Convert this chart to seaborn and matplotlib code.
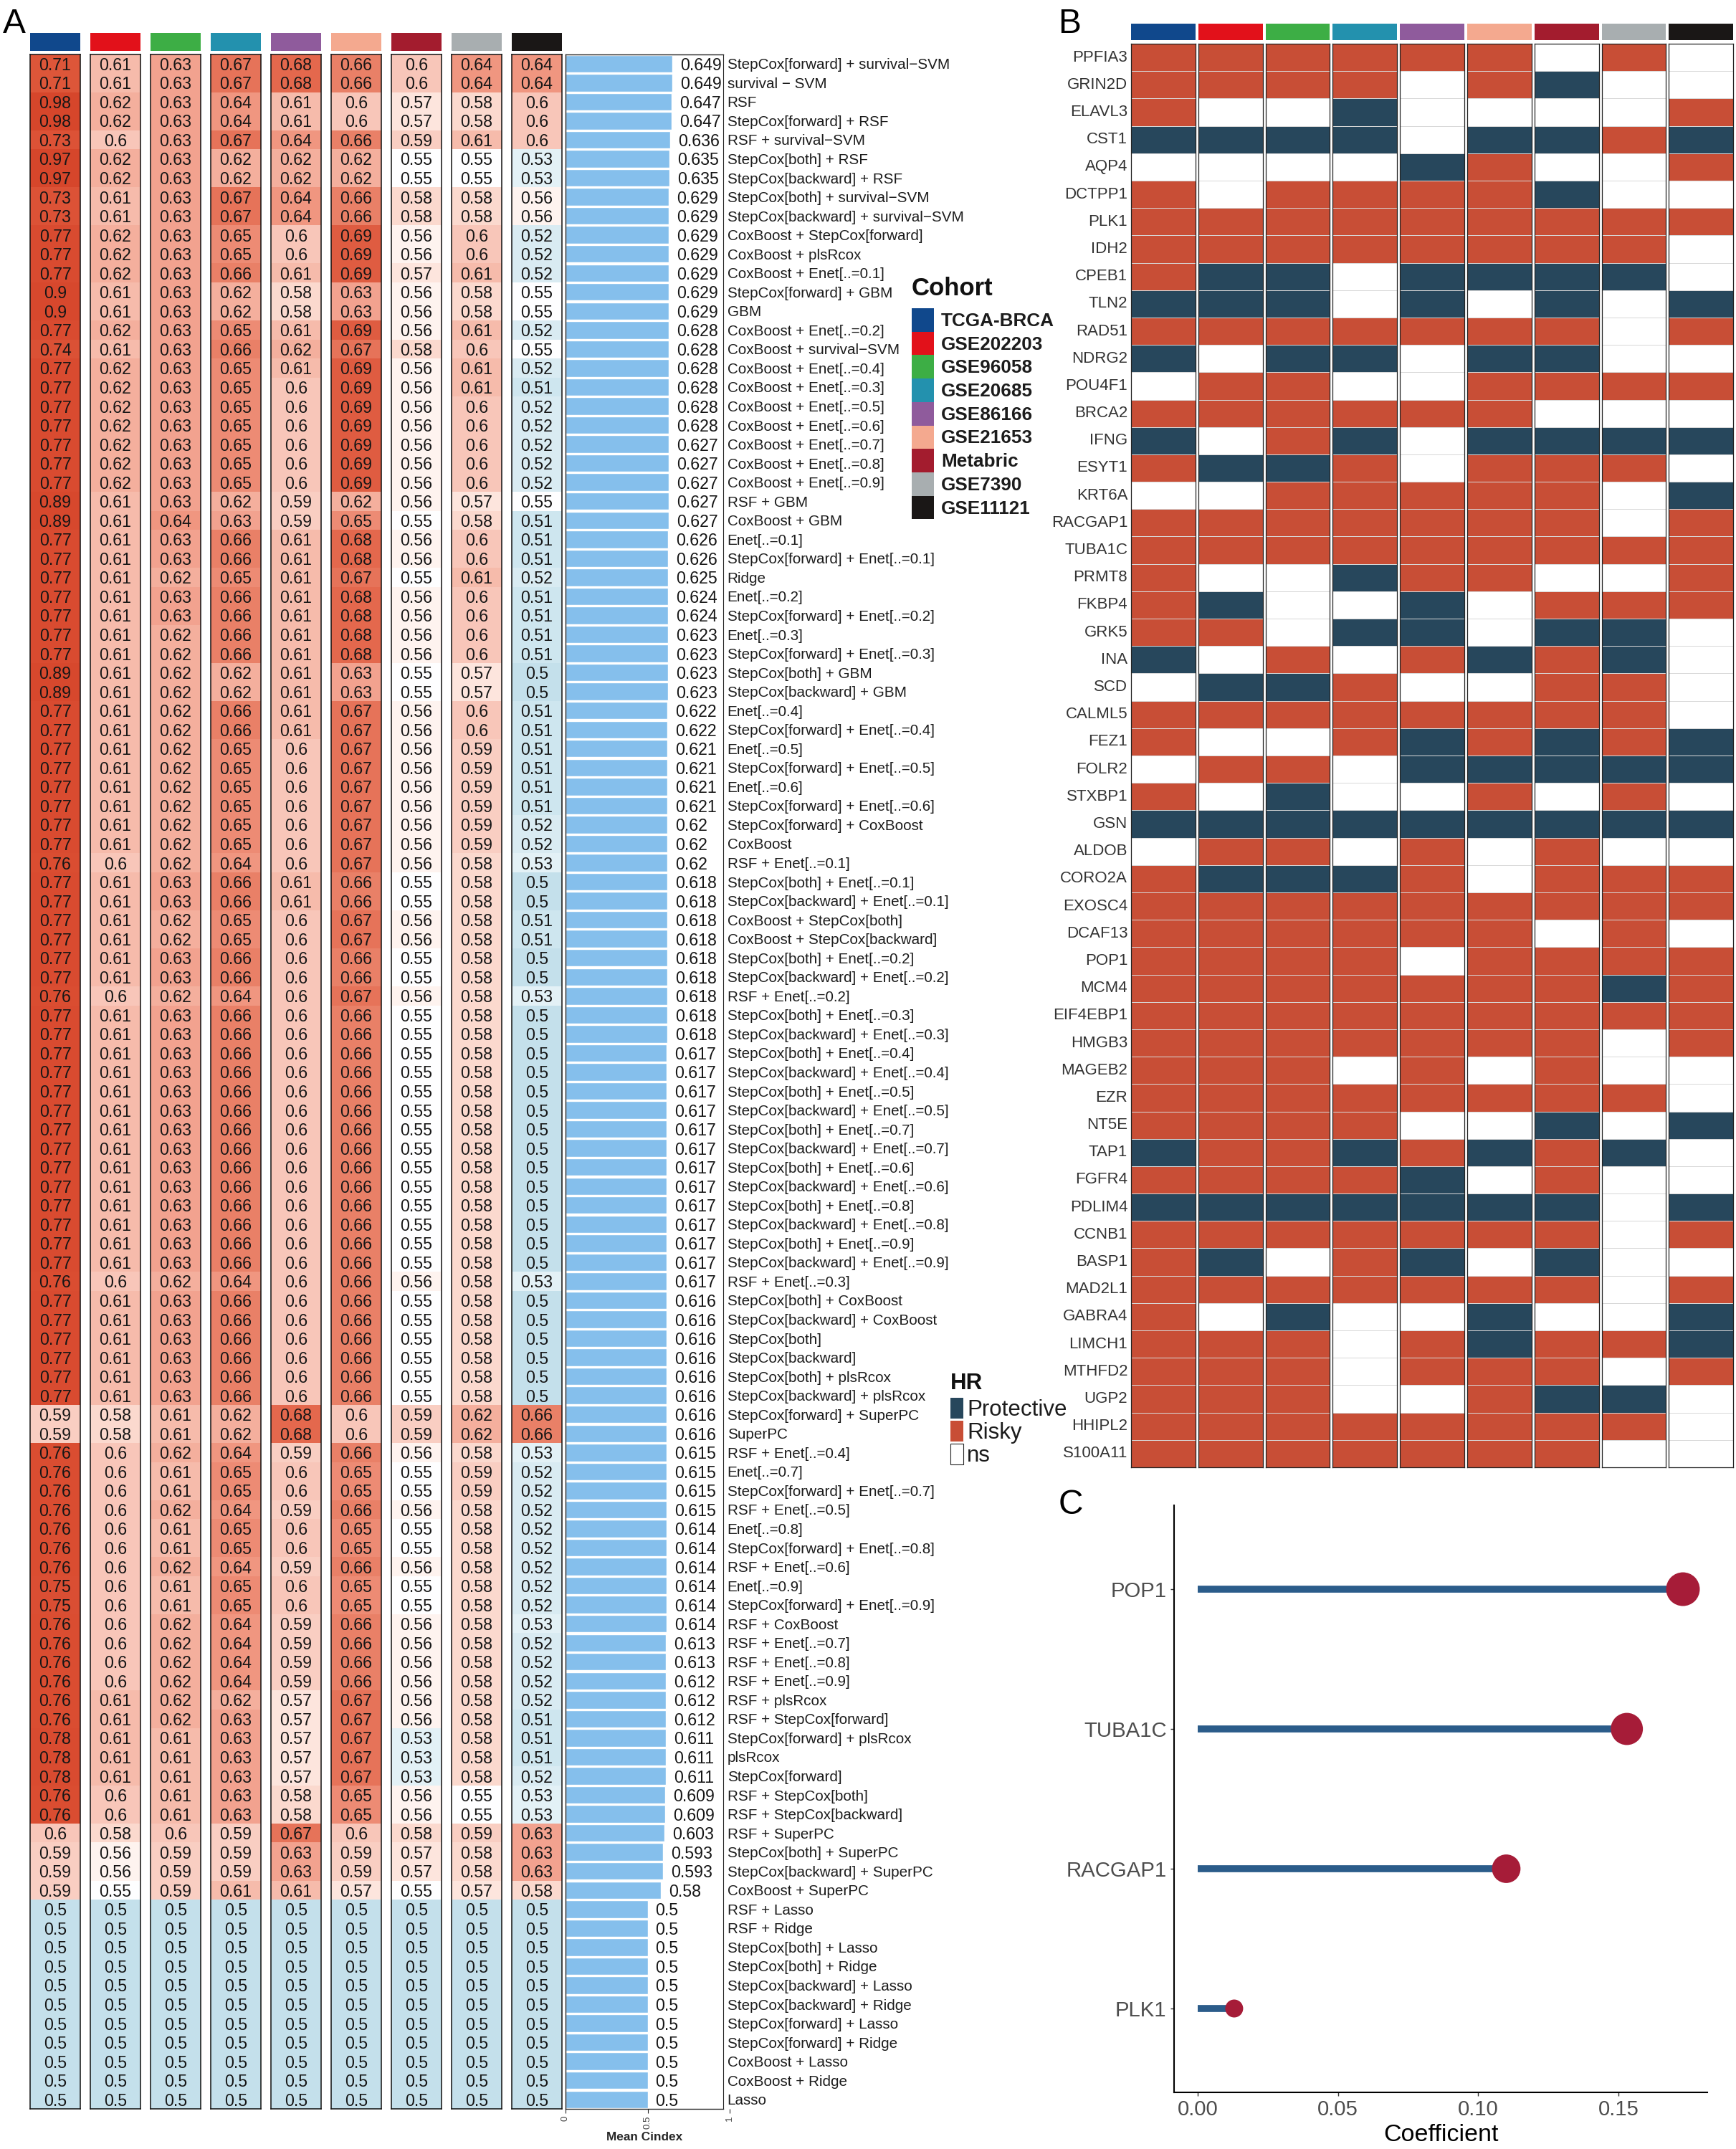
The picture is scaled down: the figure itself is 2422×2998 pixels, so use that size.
import numpy as np
import pandas as pd
import matplotlib
matplotlib.use("Agg")
import matplotlib.pyplot as plt
from matplotlib.colors import LinearSegmentedColormap, ListedColormap
from matplotlib.patches import Patch
import seaborn as sns

sns.set_style("white")
plt.rcParams['font.family'] = ['Liberation Sans', 'DejaVu Sans']

# ------------------------------------------------------------------ data
cohorts = ["TCGA-BRCA", "GSE202203", "GSE96058", "GSE20685", "GSE86166",
           "GSE21653", "Metabric", "GSE7390", "GSE11121"]
cohort_colors = ["#10488C", "#E2111A", "#3DAE45", "#2391AE", "#8F5B9C",
                 "#F4A98F", "#A31C2E", "#A8AEB0", "#1A1716"]

methods = [
    "StepCox[forward] + survival\u2212SVM", "survival \u2212 SVM", "RSF", "StepCox[forward] + RSF",
    "RSF + survival\u2212SVM", "StepCox[both] + RSF", "StepCox[backward] + RSF",
    "StepCox[both] + survival\u2212SVM", "StepCox[backward] + survival\u2212SVM",
    "CoxBoost + StepCox[forward]", "CoxBoost + plsRcox", "CoxBoost + Enet[..=0.1]",
    "StepCox[forward] + GBM", "GBM", "CoxBoost + Enet[..=0.2]", "CoxBoost + survival\u2212SVM",
    "CoxBoost + Enet[..=0.4]", "CoxBoost + Enet[..=0.3]", "CoxBoost + Enet[..=0.5]",
    "CoxBoost + Enet[..=0.6]", "CoxBoost + Enet[..=0.7]", "CoxBoost + Enet[..=0.8]",
    "CoxBoost + Enet[..=0.9]", "RSF + GBM", "CoxBoost + GBM", "Enet[..=0.1]",
    "StepCox[forward] + Enet[..=0.1]", "Ridge", "Enet[..=0.2]", "StepCox[forward] + Enet[..=0.2]",
    "Enet[..=0.3]", "StepCox[forward] + Enet[..=0.3]", "StepCox[both] + GBM",
    "StepCox[backward] + GBM", "Enet[..=0.4]", "StepCox[forward] + Enet[..=0.4]",
    "Enet[..=0.5]", "StepCox[forward] + Enet[..=0.5]", "Enet[..=0.6]",
    "StepCox[forward] + Enet[..=0.6]", "StepCox[forward] + CoxBoost", "CoxBoost",
    "RSF + Enet[..=0.1]", "StepCox[both] + Enet[..=0.1]", "StepCox[backward] + Enet[..=0.1]",
    "CoxBoost + StepCox[both]", "CoxBoost + StepCox[backward]", "StepCox[both] + Enet[..=0.2]",
    "StepCox[backward] + Enet[..=0.2]", "RSF + Enet[..=0.2]", "StepCox[both] + Enet[..=0.3]",
    "StepCox[backward] + Enet[..=0.3]", "StepCox[both] + Enet[..=0.4]",
    "StepCox[backward] + Enet[..=0.4]", "StepCox[both] + Enet[..=0.5]",
    "StepCox[backward] + Enet[..=0.5]", "StepCox[both] + Enet[..=0.7]",
    "StepCox[backward] + Enet[..=0.7]", "StepCox[both] + Enet[..=0.6]",
    "StepCox[backward] + Enet[..=0.6]", "StepCox[both] + Enet[..=0.8]",
    "StepCox[backward] + Enet[..=0.8]", "StepCox[both] + Enet[..=0.9]",
    "StepCox[backward] + Enet[..=0.9]", "RSF + Enet[..=0.3]", "StepCox[both] + CoxBoost",
    "StepCox[backward] + CoxBoost", "StepCox[both]", "StepCox[backward]",
    "StepCox[both] + plsRcox", "StepCox[backward] + plsRcox", "StepCox[forward] + SuperPC",
    "SuperPC", "RSF + Enet[..=0.4]", "Enet[..=0.7]", "StepCox[forward] + Enet[..=0.7]",
    "RSF + Enet[..=0.5]", "Enet[..=0.8]", "StepCox[forward] + Enet[..=0.8]",
    "RSF + Enet[..=0.6]", "Enet[..=0.9]", "StepCox[forward] + Enet[..=0.9]",
    "RSF + CoxBoost", "RSF + Enet[..=0.7]", "RSF + Enet[..=0.8]", "RSF + Enet[..=0.9]",
    "RSF + plsRcox", "RSF + StepCox[forward]", "StepCox[forward] + plsRcox", "plsRcox",
    "StepCox[forward]", "RSF + StepCox[both]", "RSF + StepCox[backward]", "RSF + SuperPC",
    "StepCox[both] + SuperPC", "StepCox[backward] + SuperPC", "CoxBoost + SuperPC",
    "RSF + Lasso", "RSF + Ridge", "StepCox[both] + Lasso", "StepCox[both] + Ridge",
    "StepCox[backward] + Lasso", "StepCox[backward] + Ridge", "StepCox[forward] + Lasso",
    "StepCox[forward] + Ridge", "CoxBoost + Lasso", "CoxBoost + Ridge", "Lasso",
]

mean_cindex = [
    .649, .649, .647, .647, .636, .635, .635, .629, .629, .629, .629, .629, .629, .629,
    .628, .628, .628, .628, .628, .628, .627, .627, .627, .627, .627, .626, .626, .625,
    .624, .624, .623, .623, .623, .623, .622, .622, .621, .621, .621, .621, .62, .62, .62,
    .618, .618, .618, .618, .618, .618, .618, .618, .618,
    .617, .617, .617, .617, .617, .617, .617, .617, .617, .617, .617, .617, .617,
    .616, .616, .616, .616, .616, .616, .616, .616,
    .615, .615, .615, .615, .614, .614, .614, .614, .614, .614, .613, .613, .612, .612, .612,
    .611, .611, .611, .609, .609, .603, .593, .593, .58,
    .5, .5, .5, .5, .5, .5, .5, .5, .5, .5, .5,
]

tcga_brca = [
    .71, .71, .98, .98, .73, .97, .97, .73, .73, .77, .77, .77, .9, .9, .77, .74,
    .77, .77, .77, .77, .77, .77, .77, .89, .89,
    .77, .77, .77, .77, .77, .77, .77, .89, .89,
    .77, .77, .77, .77, .77, .77, .77, .77, .76,
    .77, .77, .77, .77, .77, .77, .76,
    .77, .77, .77, .77, .77, .77, .77, .77, .77, .77, .77, .77, .77, .77, .76,
    .77, .77, .77, .77, .77, .77, .59, .59,
    .76, .76, .76, .76, .76, .76, .76, .75, .75,
    .76, .76, .76, .76, .76, .76, .78, .78, .78, .76, .76, .6, .59, .59, .59,
    .5, .5, .5, .5, .5, .5, .5, .5, .5, .5, .5,
]
gse202203 = [
    .61, .61, .62, .62, .6, .62, .62, .61, .61, .62, .62, .62, .61, .61, .62, .61,
    .62, .62, .62, .62, .62, .62, .62, .61, .61,
    .61, .61, .61, .61, .61, .61, .61, .61, .61,
    .61, .61, .61, .61, .61, .61, .61, .61, .6,
    .61, .61, .61, .61, .61, .61, .6,
    .61, .61, .61, .61, .61, .61, .61, .61, .61, .61, .61, .61, .61, .61, .6,
    .61, .61, .61, .61, .61, .61, .58, .58,
    .6, .6, .6, .6, .6, .6, .6, .6, .6,
    .6, .6, .6, .6, .61, .61, .61, .61, .61, .6, .6, .58, .56, .56, .55,
    .5, .5, .5, .5, .5, .5, .5, .5, .5, .5, .5,
]
gse96058 = [
    .63, .63, .63, .63, .63, .63, .63, .63, .63, .63, .63, .63, .63, .63, .63, .63,
    .63, .63, .63, .63, .63, .63, .63, .63, .64,
    .63, .63, .62, .63, .63, .62, .62, .62, .62,
    .62, .62, .62, .62, .62, .62, .62, .62, .62,
    .63, .63, .62, .62, .63, .63, .62,
    .63, .63, .63, .63, .63, .63, .63, .63, .63, .63, .63, .63, .63, .63, .62,
    .63, .63, .63, .63, .63, .63, .61, .61,
    .62, .61, .61, .62, .61, .61, .62, .61, .61,
    .62, .62, .62, .62, .62, .62, .61, .61, .61, .61, .61, .6, .59, .59, .59,
    .5, .5, .5, .5, .5, .5, .5, .5, .5, .5, .5,
]
gse20685 = [
    .67, .67, .64, .64, .67, .62, .62, .67, .67, .65, .65, .66, .62, .62, .65, .66,
    .65, .65, .65, .65, .65, .65, .65, .62, .63,
    .66, .66, .65, .66, .66, .66, .66, .62, .62,
    .66, .66, .65, .65, .65, .65, .65, .65, .64,
    .66, .66, .65, .65, .66, .66, .64,
    .66, .66, .66, .66, .66, .66, .66, .66, .66, .66, .66, .66, .66, .66, .64,
    .66, .66, .66, .66, .66, .66, .62, .62,
    .64, .65, .65, .64, .65, .65, .64, .65, .65,
    .64, .64, .64, .64, .62, .63, .63, .63, .63, .63, .63, .59, .59, .59, .61,
    .5, .5, .5, .5, .5, .5, .5, .5, .5, .5, .5,
]
gse86166 = [
    .68, .68, .61, .61, .64, .62, .62, .64, .64, .6, .6, .61, .58, .58, .61, .62,
    .61, .6, .6, .6, .6, .6, .6, .59, .59,
    .61, .61, .61, .61, .61, .61, .61, .61, .61,
    .61, .61, .6, .6, .6, .6, .6, .6, .6,
    .61, .61, .6, .6, .6, .6, .6,
    .6, .6, .6, .6, .6, .6, .6, .6, .6, .6, .6, .6, .6, .6, .6,
    .6, .6, .6, .6, .6, .6, .68, .68,
    .59, .6, .6, .59, .6, .6, .59, .6, .6,
    .59, .59, .59, .59, .57, .57, .57, .57, .57, .58, .58, .67, .63, .63, .61,
    .5, .5, .5, .5, .5, .5, .5, .5, .5, .5, .5,
]
gse21653 = [
    .66, .66, .6, .6, .66, .62, .62, .66, .66, .69, .69, .69, .63, .63, .69, .67,
    .69, .69, .69, .69, .69, .69, .69, .62, .65,
    .68, .68, .67, .68, .68, .68, .68, .63, .63,
    .67, .67, .67, .67, .67, .67, .67, .67, .67,
    .66, .66, .67, .67, .66, .66, .67,
    .66, .66, .66, .66, .66, .66, .66, .66, .66, .66, .66, .66, .66, .66, .66,
    .66, .66, .66, .66, .66, .66, .6, .6,
    .66, .65, .65, .66, .65, .65, .66, .65, .65,
    .66, .66, .66, .66, .67, .67, .67, .67, .67, .65, .65, .6, .59, .59, .57,
    .5, .5, .5, .5, .5, .5, .5, .5, .5, .5, .5,
]
metabric = [
    .6, .6, .57, .57, .59, .55, .55, .58, .58, .56, .56, .57, .56, .56, .56, .58,
    .56, .56, .56, .56, .56, .56, .56, .56, .55,
    .56, .56, .55, .56, .56, .56, .56, .55, .55,
    .56, .56, .56, .56, .56, .56, .56, .56, .56,
    .55, .55, .56, .56, .55, .55, .56,
    .55, .55, .55, .55, .55, .55, .55, .55, .55, .55, .55, .55, .55, .55, .56,
    .55, .55, .55, .55, .55, .55, .59, .59,
    .56, .55, .55, .56, .55, .55, .56, .55, .55,
    .56, .56, .56, .56, .56, .56, .53, .53, .53, .56, .56, .58, .57, .57, .55,
    .5, .5, .5, .5, .5, .5, .5, .5, .5, .5, .5,
]
gse7390 = [
    .64, .64, .58, .58, .61, .55, .55, .58, .58, .6, .6, .61, .58, .58, .61, .6,
    .61, .61, .6, .6, .6, .6, .6, .57, .58,
    .6, .6, .61, .6, .6, .6, .6, .57, .57,
    .6, .6, .59, .59, .59, .59, .59, .59, .58,
    .58, .58, .58, .58, .58, .58, .58,
    .58, .58, .58, .58, .58, .58, .58, .58, .58, .58, .58, .58, .58, .58, .58,
    .58, .58, .58, .58, .58, .58, .62, .62,
    .58, .59, .59, .58, .58, .58, .58, .58, .58,
    .58, .58, .58, .58, .58, .58, .58, .58, .58, .55, .55, .59, .58, .58, .57,
    .5, .5, .5, .5, .5, .5, .5, .5, .5, .5, .5,
]
gse11121 = [
    .64, .64, .6, .6, .6, .53, .53, .56, .56, .52, .52, .52, .55, .55, .52, .55,
    .52, .51, .52, .52, .52, .52, .52, .55, .51,
    .51, .51, .52, .51, .51, .51, .51, .5, .5,
    .51, .51, .51, .51, .51, .51, .52, .52, .53,
    .5, .5, .51, .51, .5, .5, .53,
    .5, .5, .5, .5, .5, .5, .5, .5, .5, .5, .5, .5, .5, .5, .53,
    .5, .5, .5, .5, .5, .5, .66, .66,
    .53, .52, .52, .52, .52, .52, .52, .52, .52,
    .53, .52, .52, .52, .52, .51, .51, .51, .52, .53, .53, .63, .63, .63, .58,
    .5, .5, .5, .5, .5, .5, .5, .5, .5, .5, .5,
]
cindex_columns = [tcga_brca, gse202203, gse96058, gse20685, gse86166,
                  gse21653, metabric, gse7390, gse11121]

genes = ["PPFIA3", "GRIN2D", "ELAVL3", "CST1", "AQP4", "DCTPP1", "PLK1", "IDH2", "CPEB1", "TLN2",
         "RAD51", "NDRG2", "POU4F1", "BRCA2", "IFNG", "ESYT1", "KRT6A", "RACGAP1", "TUBA1C", "PRMT8",
         "FKBP4", "GRK5", "INA", "SCD", "CALML5", "FEZ1", "FOLR2", "STXBP1", "GSN", "ALDOB",
         "CORO2A", "EXOSC4", "DCAF13", "POP1", "MCM4", "EIF4EBP1", "HMGB3", "MAGEB2", "EZR", "NT5E",
         "TAP1", "FGFR4", "PDLIM4", "CCNB1", "BASP1", "MAD2L1", "GABRA4", "LIMCH1", "MTHFD2", "UGP2",
         "HHIPL2", "S100A11"]
# one string per gene, one letter per cohort: P protective, R risky, n not significant
hr_calls = ["RRRRRRnRn", "RRRRnRPnn", "RnnPnnnnR", "PPPPnPPRP", "nnnnPRnnR", "RnRRRRPnn",
            "RRRRRRRRR", "RRRRRRRRn", "RPPnPPPPn", "PPPnPnPnP", "RRRRRRRnR", "PnPPnPPnn",
            "nRRnnRRRR", "RRRRRRnnn", "PnRPnPPPP", "RPPRnRRRn", "nnRRRRRnP", "RRRRRRRnR",
            "RRRRRRRRR", "RnnPRRnnR", "RPnnPnRRR", "RRnPPnPPn", "PnRnRPRPn", "nPPRnnRRn",
            "RRRRRRRRn", "RnnRPRPRP", "nRRnPPPPP", "RnPnnRnRn", "PPPPPPPPP", "nRRnRnRnn",
            "RPPPRnRRR", "RRRRRRRRR", "RRRRRRnRn", "RRRRnRRRR", "RRRRRRRPR", "RRRRRRRRR",
            "RRRRRRRnR", "RRRnRnRnn", "RRRRRRRRn", "RRRRnnPnP", "PRRPRPRPn", "RRRRPnRnn",
            "PPPPPPPnP", "RRRRRRRnR", "RPnRPnPnn", "RRRRRRRnR", "RnPnnPnnP", "RRRnRPRRP",
            "RRRnRRRnR", "RRRnnRPPn", "RRRRRRRRn", "RRRRRRRnn"]
hr_levels = ["Protective", "Risky", "ns"]
hr_colors = ["#27475C", "#C84E36", "#FFFFFF"]

coef_genes = ["POP1", "TUBA1C", "RACGAP1", "PLK1"]
coef_values = [0.173, 0.153, 0.110, 0.013]

# ------------------------------------------------------------------ layout helpers
W, H = 2422, 2998
fig = plt.figure(figsize=(W / 100, H / 100), dpi=100, facecolor="white")


def axes_px(x0, y0, x1, y1):
    return fig.add_axes([x0 / W, 1 - y1 / H, (x1 - x0) / W, (y1 - y0) / H])


def strip(x0, y0, x1, y1, color):
    ax = axes_px(x0, y0, x1, y1)
    ax.set_facecolor(color)
    ax.set_xticks([])
    ax.set_yticks([])
    for s in ax.spines.values():
        s.set_visible(False)


def box(ax, lw=1.1, color="#111111"):
    for s in ax.spines.values():
        s.set_visible(True)
        s.set_linewidth(lw)
        s.set_color(color)


cindex_nodes = [(.50, "#C4E0EB"), (.53, "#E4F1F6"), (.55, "#FFFFFF"), (.57, "#FDE3DB"),
                (.58, "#FBD7CC"), (.60, "#F8C6B9"), (.61, "#F6BBAB"), (.63, "#F2A18E"),
                (.64, "#F0957F"), (.66, "#E97F66"), (.68, "#E4684D"), (.69, "#DF5C41"),
                (.71, "#DD5639"), (.77, "#D94B30"), (1.0, "#D6452A")]
cindex_cmap = LinearSegmentedColormap.from_list(
    "cindex", [((v - .5) / .5, c) for v, c in cindex_nodes])

# ------------------------------------------------------------------ panel A
col_w, col_step, col_left = 70, 84, 42
top_a, bottom_a = 75.5, 2942
for i, (name, color, vals) in enumerate(zip(cohorts, cohort_colors, cindex_columns)):
    x0 = col_left + i * col_step
    strip(x0, 46, x0 + col_w, 70.5, color)
    ax = axes_px(x0, top_a, x0 + col_w, bottom_a)
    sns.heatmap(pd.DataFrame({name: vals}, index=methods), ax=ax, cmap=cindex_cmap, vmin=.5, vmax=1,
                cbar=False, annot=True, fmt="g", xticklabels=False, yticklabels=False,
                annot_kws={"size": 16.7, "color": "#161616", "va": "center_baseline"})
    ax.set_xlabel("")
    ax.set_ylabel("")
    box(ax)

ax_bar = axes_px(789, top_a, 1018, bottom_a)
sns.barplot(x=mean_cindex, y=methods, ax=ax_bar, color="#85BFEC", saturation=1, width=0.92)
ax_bar.set_xlim(0, 1)
ax_bar.set_ylim(len(methods) - .5, -.5)
box_end = 0.961
for s in ax_bar.spines.values():
    s.set_visible(True)
    s.set_linewidth(1.0)
    s.set_color("#222222")
ax_bar.spines["bottom"].set_bounds(0, box_end)
ax_bar.spines["top"].set_bounds(0, box_end)
ax_bar.spines["right"].set_position(("data", box_end))
ax_bar.spines["right"].set_linewidth(.8)
ax_bar.yaxis.tick_right()
ax_bar.tick_params(axis="y", length=0, pad=4, labelsize=14.85, labelcolor="#1c1c1c")
ax_bar.set_xticks([0, .5, 1], ["0", "0.5", "1"])
ax_bar.tick_params(axis="x", bottom=True, length=4.5, width=.8, pad=2.5, labelsize=9.5,
                   labelcolor="#444444", labelrotation=90)
for label in ax_bar.bar_label(ax_bar.containers[0], fmt="%g", padding=8, fontsize=16.7, color="#161616"):
    label.set_va("center_baseline")
ax_bar.set_xlabel("Mean Cindex", fontsize=12.4, fontweight="bold", x=.48, labelpad=3)
ax_bar.set_ylabel("")

# ------------------------------------------------------------------ panel B
hr_table = pd.DataFrame([list(s) for s in hr_calls], index=genes, columns=cohorts)
hr_codes = hr_table.replace({"P": 0, "R": 1, "n": 2}).astype(int)
hr_cmap = ListedColormap(hr_colors)
b_left, b_step, b_w = 1578, 93.8, 89.7
for i, (name, color) in enumerate(zip(cohorts, cohort_colors)):
    x0 = b_left + i * b_step
    strip(x0, 33, x0 + b_w, 56, color)
    ax = axes_px(x0, 61, x0 + b_w, 2047)
    sns.heatmap(hr_codes[[name]], ax=ax, cmap=hr_cmap, vmin=-.5, vmax=2.5, cbar=False,
                linewidths=.7, linecolor="#D8D8D8", xticklabels=False, yticklabels=(i == 0))
    ax.set_xlabel("")
    ax.set_ylabel("")
    if i == 0:
        ax.tick_params(axis="y", length=0, pad=3.5, labelsize=16, labelcolor="#333333", rotation=0)
    box(ax, lw=.9, color="#222222")

# ------------------------------------------------------------------ panel C
ax_c = axes_px(1638, 2100, 2382, 2919)
sns.scatterplot(x=coef_values, y=coef_genes, size=coef_values, sizes=(324, 1145), ax=ax_c,
                color="#A61C38", linewidth=0, legend=False, zorder=3, alpha=1)
ax_c.hlines(coef_genes, 0, coef_values, color="#2B5C8A", linewidth=7, zorder=2)
ax_c.set_xlim(-0.00844, 0.1817)
ax_c.set_ylim(3.6, -0.6)
ax_c.set_xticks([0, .05, .10, .15], ["0.00", "0.05", "0.10", "0.15"])
sns.despine(ax=ax_c)
for side in ("left", "bottom"):
    ax_c.spines[side].set_linewidth(1.5)
    ax_c.spines[side].set_color("black")
ax_c.tick_params(axis="both", bottom=True, left=True, length=3.5, width=1, color="#333333",
                 labelsize=21.2, labelcolor="#4D4D4D", pad=4)
ax_c.set_xlabel("Coefficient", fontsize=24.5, color="black", labelpad=4)

# ------------------------------------------------------------------ legends and panel letters
fig.text(1272 / W, 1 - 402 / H, "Cohort", fontsize=25, fontweight="bold", va="center", color="#111111")
fig.legend(handles=[Patch(facecolor=c, edgecolor="none", label=n) for n, c in zip(cohorts, cohort_colors)],
           loc="upper left", bbox_to_anchor=(1272 / W, 1 - 430 / H), borderaxespad=0, borderpad=0,
           frameon=False, labelspacing=0, handlelength=1.188, handleheight=1.55, handletextpad=.38,
           prop={"size": 18.8, "weight": "bold"}, labelcolor="#1c1c1c")

fig.text(1326 / W, 1 - 1930 / H, "HR", fontsize=22.5, fontweight="bold", va="center", color="#111111")
fig.legend(handles=[Patch(facecolor=c, edgecolor=e, linewidth=.8, label=n)
                    for n, c, e in zip(hr_levels, hr_colors, ["none", "none", "#222222"])],
           loc="upper left", bbox_to_anchor=(1325.5 / W, 1 - 1950 / H), borderaxespad=0, borderpad=0,
           frameon=False, labelspacing=0, handlelength=.59, handleheight=1.05, handletextpad=.16,
           prop={"size": 22.5}, labelcolor="#1c1c1c")

for letter, x, y in (("A", 4, 46), ("B", 1476, 46), ("C", 1477, 2112)):
    fig.text(x / W, 1 - y / H, letter, fontsize=34.5, va="baseline", ha="left", color="black")

fig.savefig("out.png", dpi=100, facecolor="white")
